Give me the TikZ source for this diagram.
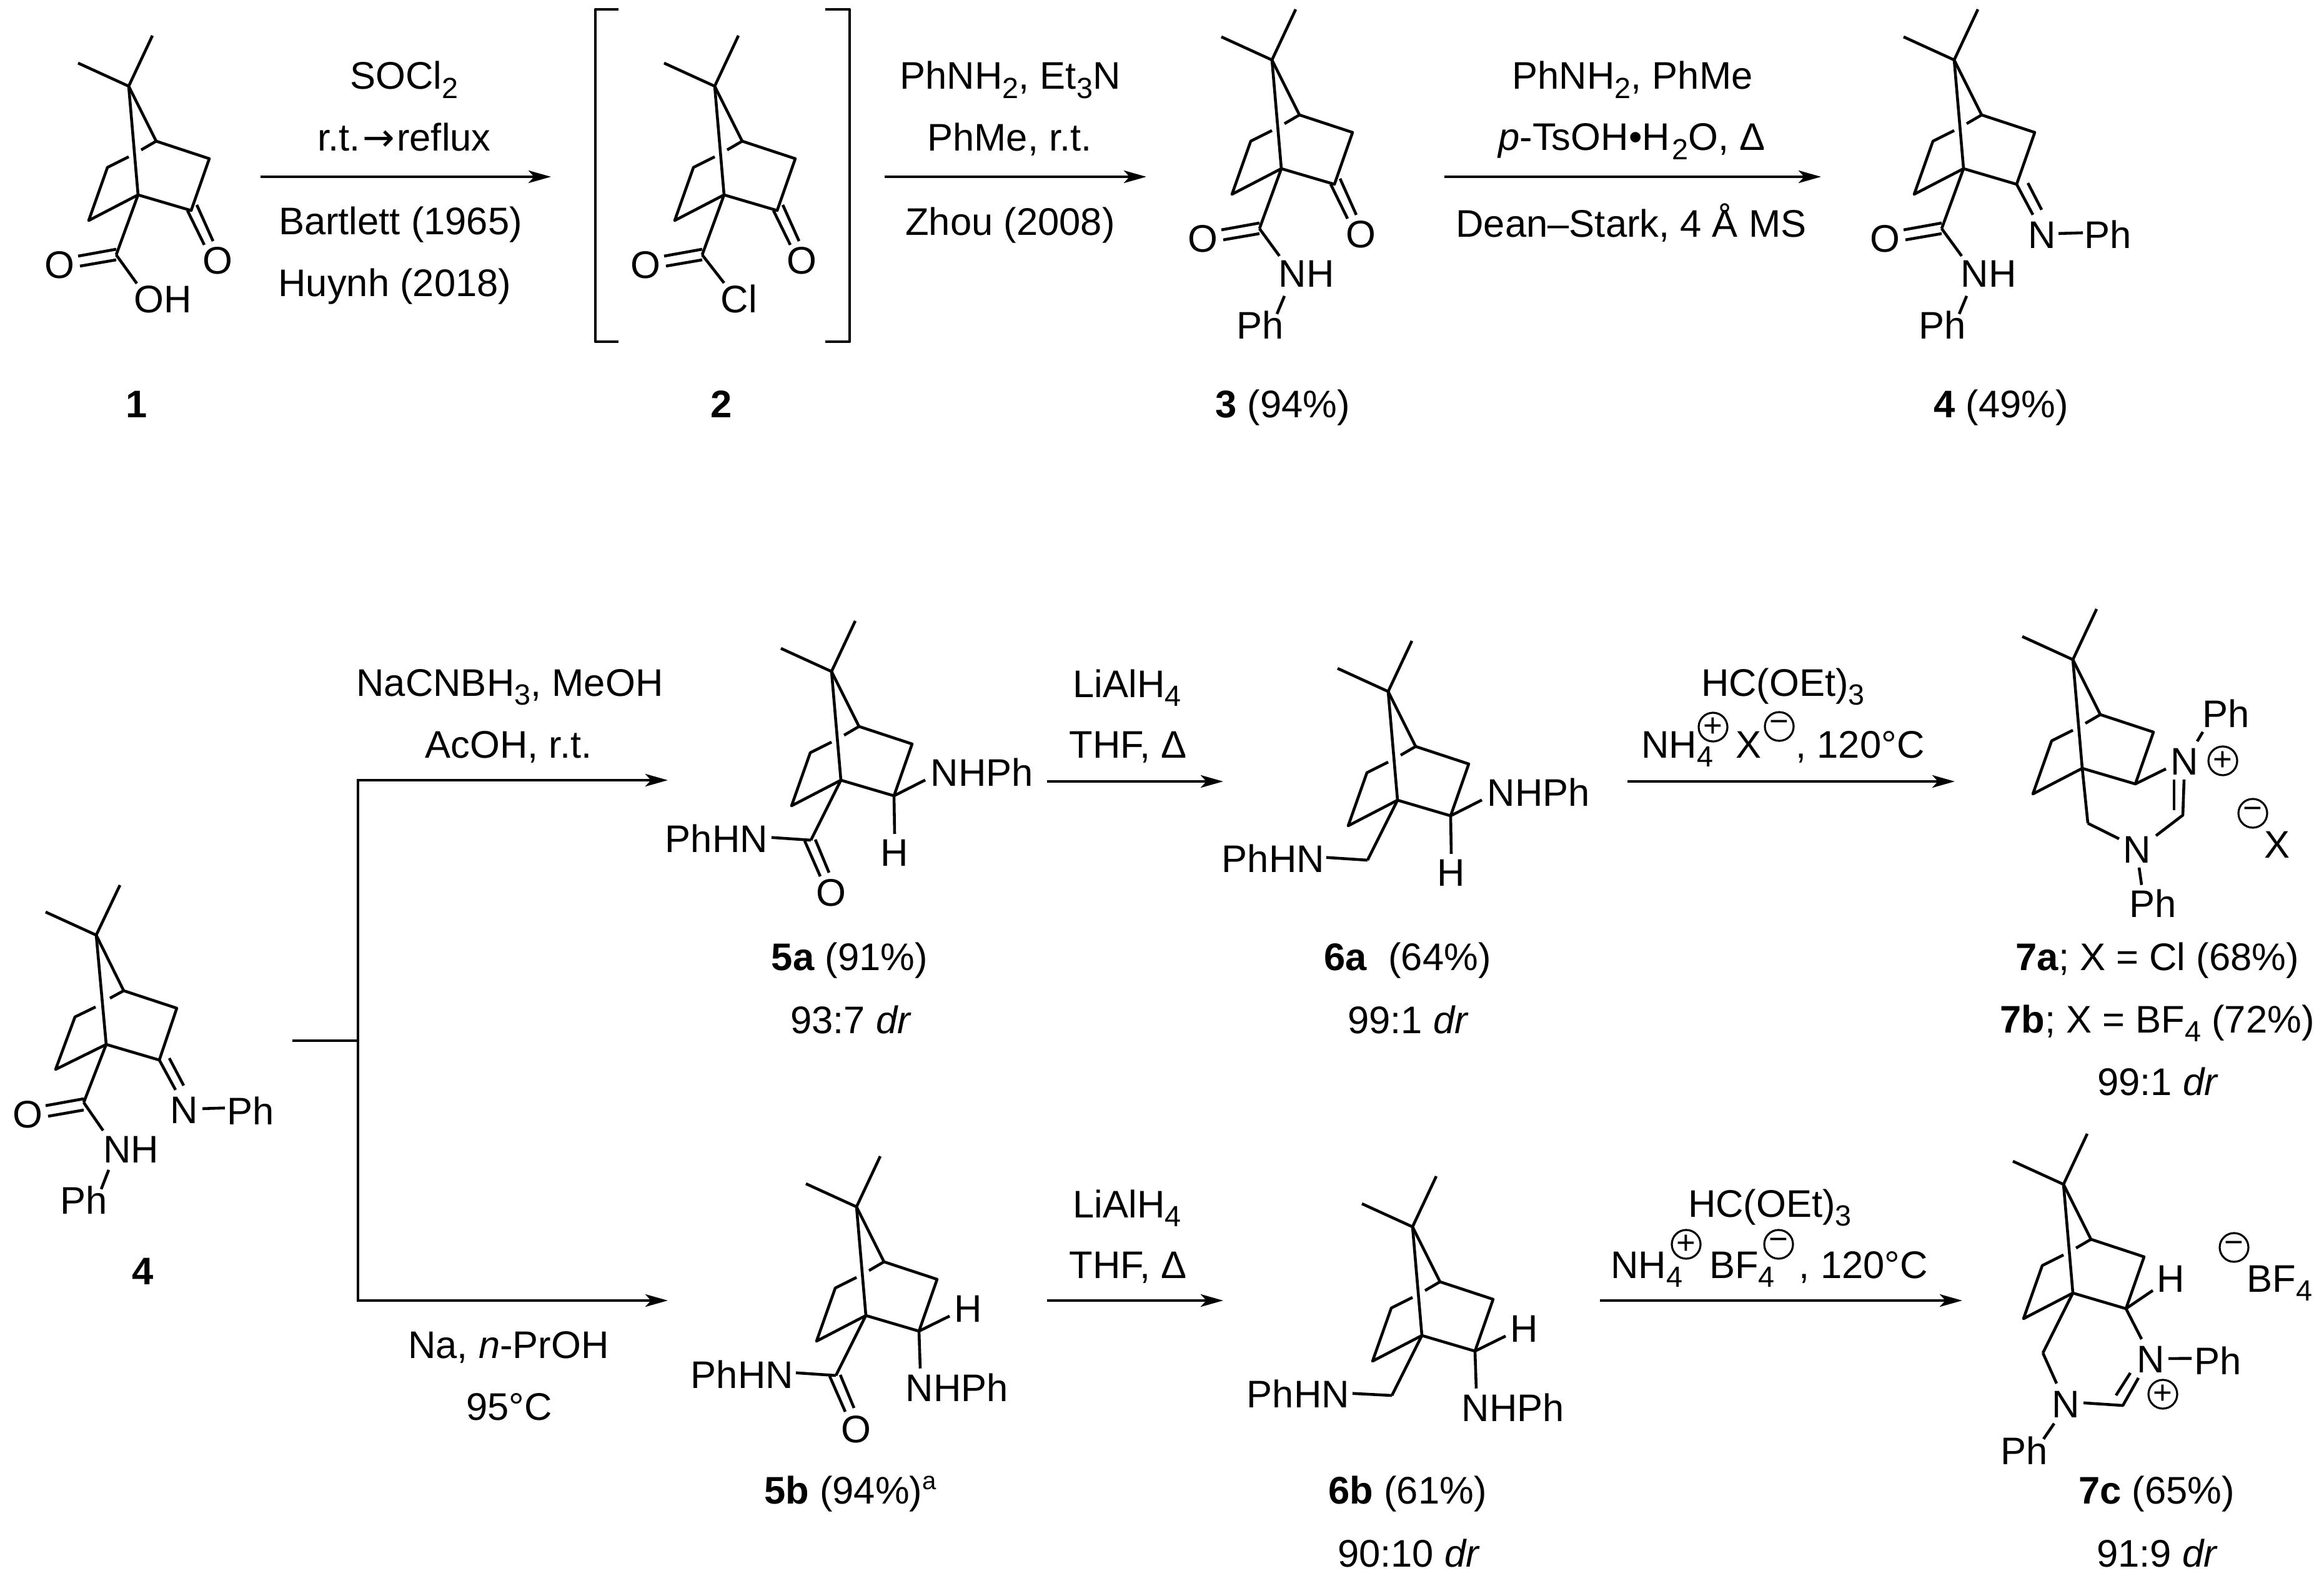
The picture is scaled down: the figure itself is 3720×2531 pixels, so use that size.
\documentclass[tikz,border=0pt]{standalone}
\usepackage{fontspec}
\setmainfont{Liberation Sans}
\newfontfamily\symfont{DejaVu Sans}
\usetikzlibrary{arrows.meta}

\newcommand{\dn}[1]{\raisebox{-4pt}{\fontsize{13.3}{14}\selectfont #1}}

\tikzset{
    lbl/.style={anchor=base, inner sep=0pt, font=\fontsize{17.5}{20}\selectfont},
    chg/.style={circle, draw, line width=0.9pt, inner sep=0pt, minimum size=0.46cm, font=\fontsize{15}{15}\selectfont},
    bond/.style={line width=1.3pt, line join=round},
    rxn/.style={-{Stealth[length=0.36cm, width=0.2cm, inset=0.09cm]}, line width=1.3pt},
    bornane/.pic={
        \coordinate (-C7) at (0,0);
        \coordinate (-M1) at (38,-81);
        \coordinate (-M2) at (-81,-37);
        \coordinate (-C4) at (44,88);
        \coordinate (-C3) at (129,116);
        \coordinate (-C2) at (100,199);
        \coordinate (-C1) at (15,174);
        \coordinate (-C6) at (-64,215);
        \coordinate (-C5) at (-34,130);
        \coordinate (-S5) at (0,113);
        \coordinate (-S4) at (20,102);
        \coordinate (-COa) at (-20,270);
        \coordinate (-COb) at (-33,270);
        \draw[bond] (-M1) -- (-C7) -- (-M2);
        \draw[bond] (-C7) -- (-C1);
        \draw[bond] (-S4) -- (-C4) -- (-C7);
        \draw[bond] (-C4) -- (-C3) -- (-C2) -- (-C1) -- (-C6) -- (-C5) -- (-S5);
    },
    ketone/.pic={
        \draw[bond] (-6,0) -- (21,55);
        \draw[bond] (9,-9) -- (35,49);
    },
    acyl/.pic={
        \draw[bond] (-61,2) -- (0,-9);
        \draw[bond] (-58,18) -- (0,8);
    },
    amide/.pic={
        \draw[bond] (-10,1) -- (15,58);
        \draw[bond] (7,-1) -- (29,52);
    }
}

\begin{document}
\begin{tikzpicture}[x=0.01cm, y=-0.01cm]
    \useasboundingbox (0,0) rectangle (3720,2531);

    % Draw top row: acid 1
    \pic (a) at (206,138) {bornane};
    \draw[bond] (a-C1) -- (a-COa);
    \pic at (a-C2) {ketone};
    \pic at (a-COa) {acyl};
    \node[lbl] (a-o1) at (95,446) {O};
    \node[lbl] (a-o2) at (348,439) {O};
    \node[lbl] (a-oh) at (261,501) {OH};
    \draw[bond] (a-COa) -- ([shift={(-42,-26)}]a-oh.center);
    \node[lbl] (a-nr) at (219,669) {\textbf{1}};

    % Draw first arrow
    \coordinate (r1a) at (417,283);
    \coordinate (r1b) at (882,283);
    \draw[rxn] (r1a) -- (r1b);
    \node[lbl] (r1t) at (647,143) {SOCl\dn{2}};
    \node[lbl] (r1u) at (647,242) {r.t.{\symfont\hspace{1pt}→\hspace{1pt}}reflux};
    \node[lbl] (r1v) at (641,376) {Bartlett (1965)};
    \node[lbl] (r1w) at (632,475) {Huynh (2018)};

    % Draw acid chloride 2 in brackets
    \draw[bond] (990,15) -- (953,15) -- (953,547) -- (990,547);
    \draw[bond] (1321,15) -- (1360,15) -- (1360,547) -- (1321,547);
    \pic (b) at (1144,138) {bornane};
    \draw[bond] (b-C1) -- (b-COa);
    \pic at (b-C2) {ketone};
    \pic at (b-COa) {acyl};
    \node[lbl] (b-o1) at (1033,446) {O};
    \node[lbl] (b-o2) at (1283,439) {O};
    \node[lbl] (b-cl) at (1183,501) {Cl};
    \draw[bond] (b-COa) -- ([shift={(-24,-26)}]b-cl.center);
    \node[lbl] (b-nr) at (1155,669) {\textbf{2}};

    % Draw second arrow
    \coordinate (r2a) at (1416,283);
    \coordinate (r2b) at (1835,283);
    \draw[rxn] (r2a) -- (r2b);
    \node[lbl] (r2t) at (1617,143) {PhNH\dn{2}, Et\dn{3}N};
    \node[lbl] (r2u) at (1616,242) {PhMe, r.t.};
    \node[lbl] (r2v) at (1617,377) {Zhou (2008)};

    % Draw amide 3
    \pic (c) at (2036,96) {bornane};
    \draw[bond] (c-C1) -- (c-COa);
    \pic at (c-C2) {ketone};
    \pic at (c-COa) {acyl};
    \node[lbl] (c-o1) at (1925,404) {O};
    \node[lbl] (c-o2) at (2178,397) {O};
    \node[lbl] (c-nh) at (2091,460) {NH};
    \node[lbl] (c-ph) at (2017,543) {Ph};
    \draw[bond] (c-COa) -- ([shift={(-43,-29)}]c-nh.center);
    \draw[bond] ([shift={(-35,35)}]c-nh.center) -- ([shift={(27,-18)}]c-ph.center);
    \node[lbl] (c-nr) at (2053,669) {\textbf{3} (94\%)};

    % Draw third arrow
    \coordinate (r3a) at (2312,283);
    \coordinate (r3b) at (2915,283);
    \draw[rxn] (r3a) -- (r3b);
    \node[lbl] (r3t) at (2613,143) {PhNH\dn{2}, PhMe};
    \node[lbl] (r3u) at (2612,241) {\textit{p}-TsOH•H\hspace{1pt}\dn{2}O, Δ};
    \node[lbl] (r3v) at (2611,380) {Dean–Stark, 4 Å MS};

    % Draw imine 4
    \pic (d) at (3128,96) {bornane};
    \draw[bond] (d-C1) -- (d-COa);
    \pic at (d-COa) {acyl};
    \node[lbl] (d-o1) at (3017,404) {O};
    \node[lbl] (d-nh) at (3183,460) {NH};
    \node[lbl] (d-ph) at (3109,543) {Ph};
    \node[lbl] (d-n) at (3269,398) {N};
    \node[lbl] (d-pi) at (3374,398) {Ph};
    \draw[bond] (d-COa) -- ([shift={(-43,-29)}]d-nh.center);
    \draw[bond] ([shift={(-35,35)}]d-nh.center) -- ([shift={(27,-18)}]d-ph.center);
    \draw[bond] (d-C2) -- ([shift={(-15,-33)}]d-n.center);
    \draw[bond] ([shift={(18,-2)}]d-C2) -- ([shift={(-1,-41)}]d-n.center);
    \draw[bond] ([shift={(26,-3)}]d-n.center) -- ([shift={(-40,-3)}]d-pi.center);
    \node[lbl] (d-nr) at (3203,669) {\textbf{4} (49\%)};

    % Draw starting imine 4 of the lower scheme
    \coordinate (f-C7) at (154,1497);
    \coordinate (f-C1) at (170,1672);
    \coordinate (f-C2) at (255,1697);
    \coordinate (f-CO) at (134,1765);
    \draw[bond] (192,1417) -- (f-C7) -- (73,1460);
    \draw[bond] (f-C7) -- (f-C1);
    \draw[bond] (176,1598) -- (198,1586) -- (f-C7);
    \draw[bond] (198,1586) -- (283,1614) -- (f-C2) -- (f-C1) -- (89,1712) -- (120,1628) -- (153,1612);
    \draw[bond] (f-C1) -- (f-CO);
    \draw[bond] (73,1770) -- (134,1759);
    \draw[bond] (77,1787) -- (134,1777);
    \node[lbl] (f-o1) at (44,1805) {O};
    \node[lbl] (f-nh) at (210,1861) {NH};
    \node[lbl] (f-ph) at (134,1943) {Ph};
    \node[lbl] (f-n) at (295,1798) {N};
    \node[lbl] (f-pi) at (401,1800) {Ph};
    \draw[bond] (f-CO) -- ([shift={(-45,-30)}]f-nh.center);
    \draw[bond] ([shift={(-36,33)}]f-nh.center) -- ([shift={(28,-17)}]f-ph.center);
    \draw[bond] (f-C2) -- ([shift={(-14,-32)}]f-n.center);
    \draw[bond] ([shift={(16,-3)}]f-C2) -- ([shift={(-1,-39)}]f-n.center);
    \draw[bond] ([shift={(29,-2)}]f-n.center) -- ([shift={(-41,-4)}]f-pi.center);
    \node[lbl] (f-nr) at (229,2056) {\textbf{4}};

    % Draw branching arrows
    \coordinate (fk0) at (468,1666);
    \coordinate (fk1) at (573,1666);
    \coordinate (fk2) at (573,1249);
    \coordinate (fk3) at (573,2082);
    \coordinate (fk4) at (1069,1249);
    \coordinate (fk5) at (1069,2082);
    \draw[bond] (fk0) -- (fk1);
    \draw[rxn] (fk1) -- (fk2) -- (fk4);
    \draw[rxn] (fk1) -- (fk3) -- (fk5);
    \node[lbl] (r4t) at (816,1114) {NaCNBH\dn{3}, MeOH};
    \node[lbl] (r4u) at (814,1213) {AcOH, r.t.};
    \node[lbl] (r5t) at (814,2174) {Na, \textit{n}-PrOH};
    \node[lbl] (r5u) at (815,2273) {95°C};

    % Draw 5a
    \pic (e) at (1331,1075) {bornane};
    \draw[bond] (e-C1) -- (e-COb);
    \pic at (e-COb) {amide};
    \node[lbl] (e-hn) at (1147,1364) {PhHN};
    \node[lbl] (e-o) at (1330,1450) {O};
    \node[lbl] (e-np) at (1572,1258) {NHPh};
    \node[lbl] (e-h) at (1432,1386) {H};
    \draw[bond] (e-COb) -- ([shift={(88,-1)}]e-hn.center);
    \draw[bond] (e-C2) -- ([shift={(-91,13)}]e-np.center);
    \draw[bond] (e-C2) -- ([shift={(0,-30)}]e-h.center);
    \node[lbl] (e-nr) at (1360,1553) {\textbf{5a} (91\%)};
    \node[lbl] (e-dr) at (1362,1654) {93:7 \textit{dr}};

    % Draw arrow 5a to 6a
    \coordinate (r6a) at (1676,1251);
    \coordinate (r6b) at (1958,1251);
    \draw[rxn] (r6a) -- (r6b);
    \node[lbl] (r6t) at (1804,1116) {LiAlH\dn{4}};
    \node[lbl] (r6u) at (1806,1213) {THF, Δ};

    % Draw 6a
    \pic (g) at (2222,1107) {bornane};
    \draw[bond] (g-C1) -- (g-COb);
    \node[lbl] (g-hn) at (2038,1396) {PhHN};
    \node[lbl] (g-np) at (2463,1290) {NHPh};
    \node[lbl] (g-h) at (2323,1418) {H};
    \draw[bond] (g-COb) -- ([shift={(85,-1)}]g-hn.center);
    \draw[bond] (g-C2) -- ([shift={(-91,13)}]g-np.center);
    \draw[bond] (g-C2) -- ([shift={(0,-30)}]g-h.center);
    \node[lbl] (g-nr) at (2253,1553) {\textbf{6a}\ \ (64\%)};
    \node[lbl] (g-dr) at (2254,1654) {99:1 \textit{dr}};

    % Draw arrow 6a to 7a
    \coordinate (r7a) at (2605,1251);
    \coordinate (r7b) at (3129,1251);
    \draw[rxn] (r7a) -- (r7b);
    \node[lbl] (r7t) at (2854,1114) {HC(OEt)\dn{3}};
    \node[lbl] (r7u) at (2854,1213) {NH\dn{4}\hspace{0.36cm}X\hspace{0.55cm}, 120°C};
    \node[chg] (r7p) at (2742,1164) {+};
    \node[chg] (r7m) at (2848,1163) {−};

    % Draw salt 7a
    \pic (h) at (3318,1056) {bornane};
    \coordinate (h-CH2) at (3342,1318);
    \coordinate (h-CH) at (3494,1305);
    \draw[bond] (h-C1) -- (h-CH2);
    \node[lbl] (h-n1) at (3497,1240) {N};
    \node[lbl] (h-p1) at (3563,1164) {Ph};
    \node[lbl] (h-n2) at (3421,1381) {N};
    \node[lbl] (h-p2) at (3446,1468) {Ph};
    \draw[bond] (h-C2) -- ([shift={(-30,12)}]h-n1.center);
    \draw[bond] ([shift={(20,-32)}]h-n1.center) -- ([shift={(-37,30)}]h-p1.center);
    \draw[bond] ([shift={(-1,29)}]h-n1.center) -- (h-CH) -- ([shift={(30,-22)}]h-n2.center);
    \draw[bond] ([shift={(-17,29)}]h-n1.center) -- ([shift={(-17,78)}]h-n1.center);
    \draw[bond] (h-CH2) -- ([shift={(-29,-17)}]h-n2.center);
    \draw[bond] ([shift={(3,29)}]h-n2.center) -- ([shift={(-18,-29)}]h-p2.center);
    \node[chg] (h-pl) at (3558,1218) {+};
    \node[chg] (h-mi) at (3606,1302) {−};
    \node[lbl] (h-x) at (3645,1373) {X};
    \node[lbl] (h-nr) at (3453,1553) {\textbf{7a}; X = Cl (68\%)};
    \node[lbl] (h-ns) at (3453,1653) {\textbf{7b}; X = BF\dn{4} (72\%)};
    \node[lbl] (h-dr) at (3454,1753) {99:1 \textit{dr}};

    % Draw 5b
    \pic (k) at (1371,1932) {bornane};
    \draw[bond] (k-C1) -- (k-COb);
    \pic at (k-COb) {amide};
    \node[lbl] (k-hn) at (1188,2222) {PhHN};
    \node[lbl] (k-o) at (1370,2309) {O};
    \node[lbl] (k-h) at (1550,2116) {H};
    \node[lbl] (k-np) at (1532,2243) {NHPh};
    \draw[bond] (k-COb) -- ([shift={(86,-2)}]k-hn.center);
    \draw[bond] (k-C2) -- ([shift={(-30,12)}]k-h.center);
    \draw[bond] (k-C2) -- ([shift={(-59,-30)}]k-np.center);
    \node[lbl] (k-nr) at (1361,2407) {\textbf{5b} (94\%)\raisebox{6.3pt}{\fontsize{11.4}{12}\selectfont a}};

    % Draw arrow 5b to 6b
    \coordinate (r8a) at (1676,2082);
    \coordinate (r8b) at (1958,2082);
    \draw[rxn] (r8a) -- (r8b);
    \node[lbl] (r8t) at (1804,1949) {LiAlH\dn{4}};
    \node[lbl] (r8u) at (1806,2046) {THF, Δ};

    % Draw 6b
    \pic (m) at (2261,1964) {bornane};
    \draw[bond] (m-C1) -- (m-COb);
    \node[lbl] (m-hn) at (2078,2253) {PhHN};
    \node[lbl] (m-h) at (2440,2148) {H};
    \node[lbl] (m-np) at (2422,2275) {NHPh};
    \draw[bond] (m-COb) -- ([shift={(87,0)}]m-hn.center);
    \draw[bond] (m-C2) -- ([shift={(-30,12)}]m-h.center);
    \draw[bond] (m-C2) -- ([shift={(-59,-30)}]m-np.center);
    \node[lbl] (m-nr) at (2253,2407) {\textbf{6b} (61\%)};
    \node[lbl] (m-dr) at (2255,2508) {90:10 \textit{dr}};

    % Draw arrow 6b to 7c
    \coordinate (r9a) at (2561,2082);
    \coordinate (r9b) at (3141,2082);
    \draw[rxn] (r9a) -- (r9b);
    \node[lbl] (r9t) at (2833,1948) {HC(OEt)\dn{3}};
    \node[lbl] (r9u) at (2832,2046) {NH\dn{4}\hspace{0.43cm}BF\dn{4}\hspace{0.39cm}, 120°C};
    \node[chg] (r9p) at (2699,1992) {+};
    \node[chg] (r9m) at (2847,1992) {−};

    % Draw salt 7c
    \pic (n) at (3303,1896) {bornane};
    \coordinate (n-CH) at (3398,2250);
    \draw[bond] (n-C1) -- (n-COb);
    \node[lbl] (n-n1) at (3443,2197) {N};
    \node[lbl] (n-p1) at (3550,2200) {Ph};
    \node[lbl] (n-h) at (3475,2068) {H};
    \node[lbl] (n-n2) at (3307,2269) {N};
    \node[lbl] (n-p2) at (3240,2344) {Ph};
    \draw[bond] (n-C2) -- ([shift={(-15,-32)}]n-n1.center);
    \draw[bond] (n-C2) -- ([shift={(-29,19)}]n-h.center);
    \draw[bond] ([shift={(28,-1)}]n-n1.center) -- ([shift={(-42,-3)}]n-p1.center);
    \draw[bond] ([shift={(-20,30)}]n-n1.center) -- (n-CH) -- ([shift={(28,-2)}]n-n2.center);
    \draw[bond] ([shift={(-33,22)}]n-n1.center) -- ([shift={(-56,58)}]n-n1.center);
    \draw[bond] (n-COb) -- ([shift={(-15,-33)}]n-n2.center);
    \draw[bond] ([shift={(-19,31)}]n-n2.center) -- ([shift={(31,-18)}]n-p2.center);
    \node[chg] (n-pl) at (3462,2232) {+};
    \node[chg] (n-mi) at (3576,1997) {−};
    \node[lbl] (n-bf) at (3649,2068) {BF\dn{4}};
    \node[lbl] (n-nr) at (3452,2407) {\textbf{7c} (65\%)};
    \node[lbl] (n-dr) at (3453,2508) {91:9 \textit{dr}};
\end{tikzpicture}
\end{document}
